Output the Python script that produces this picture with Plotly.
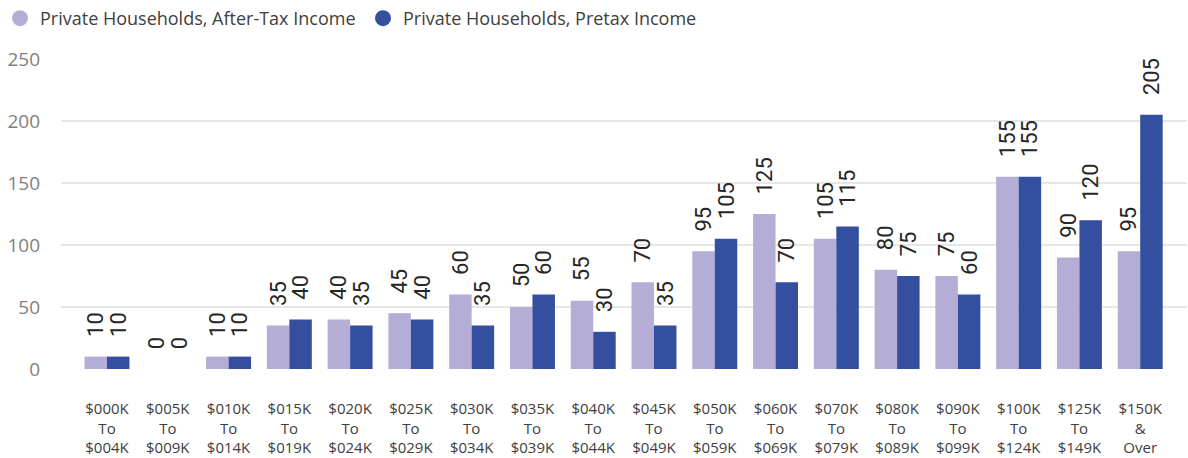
import plotly.graph_objects as go

categories = ["$000K<br>To<br>$004K", "$005K<br>To<br>$009K", "$010K<br>To<br>$014K",
              "$015K<br>To<br>$019K", "$020K<br>To<br>$024K", "$025K<br>To<br>$029K",
              "$030K<br>To<br>$034K", "$035K<br>To<br>$039K", "$040K<br>To<br>$044K",
              "$045K<br>To<br>$049K", "$050K<br>To<br>$059K", "$060K<br>To<br>$069K",
              "$070K<br>To<br>$079K", "$080K<br>To<br>$089K", "$090K<br>To<br>$099K",
              "$100K<br>To<br>$124K", "$125K<br>To<br>$149K", "$150K<br>&<br>Over"]
after_tax = [10, 0, 10, 35, 40, 45, 60, 50, 55, 70, 95, 125, 105, 80, 75, 155, 90, 95]
pretax = [10, 0, 10, 40, 35, 40, 35, 60, 30, 35, 105, 70, 115, 75, 60, 155, 120, 205]
y_ticks = [0, 50, 100, 150, 200, 250]

names = ["Private Households, After-Tax Income", "Private Households, Pretax Income"]
colors = ["#b4aed6", "#344ea0"]
label_font = dict(family="Liberation Sans Narrow, Roboto, sans-serif", size=22, color="#262626")
GAP = "\u2002\u00a0"  # spacing between bar top and rotated label

fig = go.Figure()
for name, vals, col in zip(names, [after_tax, pretax], colors):
    fig.add_trace(go.Bar(
        x=categories, y=vals, name=name, marker_color=col, showlegend=False,
        marker_line_width=0,
        text=[GAP + str(v) for v in vals], textposition="outside", textangle=-90,
        textfont=label_font, cliponaxis=False, constraintext="none",
    ))
    fig.add_trace(go.Scatter(
        x=[None], y=[None], mode="markers", name=name,
        marker=dict(symbol="circle", size=17, color=col),
    ))

fig.update_layout(
    width=1188, height=458,
    margin=dict(l=61, r=1, t=59, b=89, autoexpand=False),
    paper_bgcolor="white", plot_bgcolor="white",
    barmode="group", bargap=0.26, bargroupgap=0,
    font=dict(family="Open Sans, Noto Sans, sans-serif", color="#404040"),
    legend=dict(orientation="h", x=0, y=1, xref="container", yref="container",
                xanchor="left", yanchor="top", font=dict(size=18, color="#404040"),
                itemwidth=30, entrywidth=318, tracegroupgap=0),
    xaxis=dict(range=[-0.757, 17.77], showgrid=False, showline=False, ticks="",
               tickfont=dict(size=15, color="#404040"), ticklabelstandoff=29),
    yaxis=dict(range=[0, 250], tickvals=y_ticks, showgrid=True, gridcolor="#e6e6e6",
               gridwidth=1.5, zeroline=False, showline=False, ticks="",
               tickfont=dict(size=19, color="#7f7f7f"), ticklabelstandoff=20),
)

fig.write_html("out.html", config={"displayModeBar": False},
               post_script="document.body.style.margin='0';")
